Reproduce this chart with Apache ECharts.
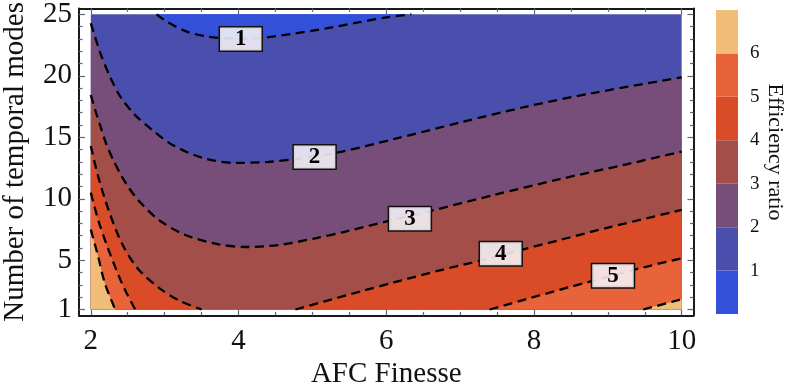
<!DOCTYPE html>
<html><head><meta charset="utf-8">
<script src="https://cdn.jsdelivr.net/npm/echarts@6/dist/echarts.min.js"></script>
<style>html,body{margin:0;padding:0;background:#fff}#c{width:789px;height:389px}</style>
</head><body><div id="c"></div>
<script>
// ---------- data ----------
const xTicks = [2, 4, 6, 8, 10];
const xMinorTicks = [2.5, 3, 3.5, 4.5, 5, 5.5, 6.5, 7, 7.5, 8.5, 9, 9.5];
const yTicks = [1, 5, 10, 15, 20, 25];
const yMinorTicks = [2, 3, 4, 6, 7, 8, 9, 11, 12, 13, 14, 16, 17, 18, 19, 21, 22, 23, 24];
const xDomain = [2, 10];
const yDomain = [1, 25];
const colorbarLevels = [1, 2, 3, 4, 5, 6];
const bandColors = ['#3350db', '#4a4fae', '#774d79', '#a34e48', '#d94c27', '#e8633a', '#f0be78'];

const contour1 = [[2.89,25],[3.03,24.4],[3.30,23.59],[3.57,23.2],[3.75,23.08],[4.03,23.0],[4.29,23.06],[4.74,23.42],[5.19,23.86],[5.64,24.36],[6.0,24.75],[6.34,25]];
const contour2 = [[2,24.27],[2.13,21.83],[2.26,19.93],[2.40,18.3],[2.60,16.8],[2.83,15.6],[3.10,14.4],[3.50,13.35],[3.95,12.92],[4.40,13.0],[4.76,13.22],[5.33,13.75],[6.10,14.85],[7.0,16.2],[7.9,17.5],[8.8,18.6],[10,19.88]];
const contour3 = [[2,18.44],[2.06,17.2],[2.13,15.9],[2.2,14.6],[2.3,13.2],[2.42,11.8],[2.52,10.85],[2.64,9.9],[2.92,8.28],[3.28,7.06],[3.73,6.3],[4.09,6.08],[4.54,6.24],[5.04,6.79],[5.42,7.3],[6.03,8.2],[6.59,9.0],[7.45,10.3],[8.35,11.6],[9.25,12.8],[10,13.83]];
const contour4L = [[2,14.3],[2.10,11.8],[2.24,9.09],[2.42,6.38],[2.64,4.3],[2.96,2.59],[3.23,1.63],[3.50,1.0]];
const contour4R = [[4.77,1],[5.19,1.7],[5.7,2.55],[6.10,3.2],[6.77,4.25],[7.29,5.0],[7.83,5.85],[8.35,6.65],[9.03,7.7],[10,9.09]];
const contour5L = [[2,10.5],[2.10,8.28],[2.24,5.84],[2.42,3.13],[2.5,2.15],[2.60,1.0]];
const contour5R = [[7.40,1],[7.9,1.85],[8.5,2.85],[9.06,3.75],[9.5,4.45],[10,5.16]];
const contour6L = [[2,7.5],[2.10,5.29],[2.19,3.13],[2.33,1.0]];
const contour6R = [[9.48,1],[10,1.83]];

const labelX = [4.03, 5.03, 6.32, 7.55, 9.07];
const labelY = [22.99, 13.40, 8.37, 5.53, 3.74];
const labelText = ['1', '2', '3', '4', '5'];

// ---------- chart ----------
const FONT = '"Liberation Serif", "Times New Roman", serif';
const frameLine = { show: true, lineStyle: { color: '#1a1a1a', width: 2 } };
const tickColor = '#5a6b7c';
const SMOOTH = 0.3;

const fills = [
  { data: [[xDomain[0], yDomain[1]], [xDomain[1], yDomain[1]]], origin: yDomain[0], color: bandColors[1] },
  { data: contour1, origin: yDomain[1], color: bandColors[0] },
  { data: contour2, origin: yDomain[0], color: bandColors[2] },
  { data: contour3, origin: yDomain[0], color: bandColors[3] },
  { data: contour4L, origin: yDomain[0], color: bandColors[4] },
  { data: contour4R, origin: yDomain[0], color: bandColors[4] },
  { data: contour5L, origin: yDomain[0], color: bandColors[5] },
  { data: contour5R, origin: yDomain[0], color: bandColors[5] },
  { data: contour6L, origin: yDomain[0], color: bandColors[6] },
  { data: contour6R, origin: yDomain[0], color: bandColors[6] }
];
const contours = [contour1, contour2, contour3, contour4L, contour4R, contour5L, contour5R, contour6L, contour6R];

const series = [];
fills.forEach(f => series.push({
  type: 'line', xAxisIndex: 0, yAxisIndex: 0, data: f.data,
  smooth: SMOOTH, showSymbol: false, symbol: 'none', silent: true,
  lineStyle: { opacity: 0, width: 0 },
  areaStyle: { color: f.color, opacity: 1, origin: f.origin }
}));
contours.forEach(c => series.push({
  type: 'line', xAxisIndex: 0, yAxisIndex: 0, data: c,
  smooth: SMOOTH, showSymbol: false, symbol: 'none', silent: true,
  lineStyle: { color: '#000', width: 2.3, type: [9, 5.5] }
}));
series.push({
  type: 'scatter', xAxisIndex: 0, yAxisIndex: 0, symbolSize: 2, silent: true, z: 10,
  itemStyle: { color: 'rgba(0,0,0,0)', opacity: 1 },
  data: labelX.map((x, i) => [x, labelY[i]]),
  label: {
    show: true, position: 'inside',
    formatter: p => labelText[p.dataIndex],
    fontFamily: FONT, fontSize: 23, fontWeight: 'bold', color: '#000', opacity: 1,
    backgroundColor: 'rgba(246,244,248,0.88)', borderColor: '#111', borderWidth: 1.5,
    padding: [1, 15, 1, 15], lineHeight: 21
  }
});
// colorbar
bandColors.forEach(col => series.push({
  type: 'bar', xAxisIndex: 4, yAxisIndex: 4, stack: 'cb', barWidth: '100%', silent: true,
  data: [1], itemStyle: { color: col }
}));

function xAx(pos, ticks, len, withLine, withLabel) {
  return {
    type: 'value', gridIndex: 0, position: pos, min: 1.84, max: 10.16,
    axisLine: withLine ? frameLine : { show: false },
    axisTick: { show: true, inside: true, length: len, customValues: ticks, lineStyle: { color: tickColor, width: 1.2 } },
    axisLabel: withLabel ? { show: true, customValues: ticks, fontFamily: FONT, fontSize: 29, color: '#111', margin: 11 } : { show: false },
    splitLine: { show: false }
  };
}
function yAx(pos, ticks, len, withLine, withLabel) {
  return {
    type: 'value', gridIndex: 0, position: pos, min: 0.52, max: 25.48,
    axisLine: withLine ? frameLine : { show: false },
    axisTick: { show: true, inside: true, length: len, customValues: ticks, lineStyle: { color: tickColor, width: 1.2 } },
    axisLabel: withLabel ? { show: true, customValues: ticks, fontFamily: FONT, fontSize: 29, color: '#111', margin: 7 } : { show: false },
    splitLine: { show: false }
  };
}

const xAxes = [
  Object.assign(xAx('bottom', xTicks, 6, true, true), { name: 'AFC Finesse', nameLocation: 'middle', nameGap: 41, nameTextStyle: { fontFamily: FONT, fontSize: 29, color: '#111' } }),
  xAx('top', xTicks, 6, true, false),
  xAx('bottom', xMinorTicks, 3.5, false, false),
  xAx('top', xMinorTicks, 3.5, false, false),
  { type: 'category', gridIndex: 1, data: ['cb'], show: false }
];
const yAxes = [
  Object.assign(yAx('left', yTicks, 6, true, true), { name: 'Number of temporal modes', nameLocation: 'middle', nameRotate: 90, nameGap: 49, nameTextStyle: { fontFamily: FONT, fontSize: 29, color: '#111' } }),
  yAx('right', yTicks, 6, true, false),
  yAx('left', yMinorTicks, 3.5, false, false),
  yAx('right', yMinorTicks, 3.5, false, false),
  {
    type: 'value', gridIndex: 1, position: 'right', min: 0, max: 7, interval: 1,
    axisLine: { show: false }, axisTick: { show: false }, splitLine: { show: false },
    axisLabel: { show: true, margin: 12, fontFamily: FONT, fontSize: 19, color: '#111',
      formatter: v => (colorbarLevels.indexOf(v) >= 0 ? String(v) : '') }
  }
];

const chart = echarts.init(document.getElementById('c'), null, { renderer: 'canvas' });
chart.setOption({
  animation: false,
  backgroundColor: '#fff',
  grid: [
    { left: 79, right: 95.5, top: 8.4, bottom: 73.6, containLabel: false, outerBoundsMode: 'none' },
    { left: 716, width: 22, top: 10, height: 304, containLabel: false, outerBoundsMode: 'none' }
  ],
  xAxis: xAxes,
  yAxis: yAxes,
  series: series,
  graphic: [{
    type: 'text', x: 775, y: 152, rotation: -Math.PI / 2,
    style: { text: 'Efficiency ratio', font: '22px "Liberation Serif", serif', fill: '#111', align: 'center', verticalAlign: 'middle' }
  }]
});
</script>
</body></html>
